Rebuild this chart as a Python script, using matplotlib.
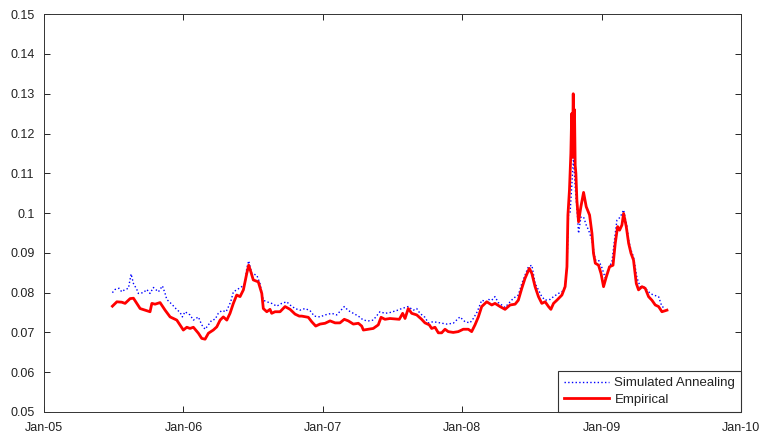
import datetime as dt
import matplotlib
matplotlib.use("Agg")
import matplotlib.pyplot as plt
import matplotlib.dates as mdates

# decimal-year positions and values
emp_t = [2005.490, 2005.522, 2005.557, 2005.581, 2005.617, 2005.641, 2005.665, 2005.689,
         2005.725, 2005.760, 2005.773, 2005.796, 2005.832, 2005.868, 2005.904, 2005.952,
         2005.999, 2006.024, 2006.047, 2006.071, 2006.107, 2006.131, 2006.155, 2006.179,
         2006.214, 2006.239, 2006.263, 2006.286, 2006.311, 2006.334, 2006.358, 2006.382,
         2006.406, 2006.430, 2006.454, 2006.468, 2006.483, 2006.501, 2006.537, 2006.562,
         2006.573, 2006.598, 2006.621, 2006.633, 2006.657, 2006.693, 2006.729, 2006.765,
         2006.801, 2006.831, 2006.849, 2006.896, 2006.920, 2006.949, 2006.980, 2007.016,
         2007.052, 2007.088, 2007.123, 2007.154, 2007.183, 2007.219, 2007.255, 2007.279,
         2007.291, 2007.326, 2007.362, 2007.398, 2007.418, 2007.446, 2007.482, 2007.518,
         2007.549, 2007.573, 2007.590, 2007.613, 2007.638, 2007.674, 2007.709, 2007.733,
         2007.764, 2007.781, 2007.805, 2007.829, 2007.853, 2007.877, 2007.900, 2007.936,
         2007.972, 2008.008, 2008.044, 2008.068, 2008.092, 2008.116, 2008.140, 2008.164,
         2008.176, 2008.212, 2008.235, 2008.271, 2008.307, 2008.343, 2008.379, 2008.402,
         2008.427, 2008.450, 2008.481, 2008.499, 2008.522, 2008.546, 2008.570, 2008.594,
         2008.618, 2008.635, 2008.654, 2008.678, 2008.714, 2008.737, 2008.750, 2008.757,
         2008.768, 2008.778, 2008.784, 2008.789, 2008.795, 2008.800, 2008.804, 2008.809,
         2008.814, 2008.821, 2008.833, 2008.850, 2008.869, 2008.888, 2008.912, 2008.929,
         2008.940, 2008.953, 2008.976, 2008.994, 2009.012, 2009.032, 2009.055, 2009.080,
         2009.096, 2009.113, 2009.127, 2009.144, 2009.156, 2009.175, 2009.192, 2009.209,
         2009.227, 2009.247, 2009.263, 2009.288, 2009.311, 2009.335, 2009.359, 2009.383,
         2009.407, 2009.431, 2009.467]
emp_v = [0.0766, 0.0777, 0.0776, 0.0773, 0.0785, 0.0786, 0.0773, 0.0760,
         0.0756, 0.0752, 0.0773, 0.0771, 0.0775, 0.0756, 0.0739, 0.0731,
         0.0706, 0.0713, 0.0710, 0.0713, 0.0698, 0.0685, 0.0683, 0.0698,
         0.0706, 0.0714, 0.0731, 0.0739, 0.0731, 0.0748, 0.0773, 0.0794,
         0.0790, 0.0807, 0.0848, 0.0869, 0.0853, 0.0832, 0.0827, 0.0798,
         0.0760, 0.0752, 0.0758, 0.0748, 0.0752, 0.0752, 0.0765, 0.0758,
         0.0746, 0.0741, 0.0741, 0.0738, 0.0727, 0.0716, 0.0721, 0.0723,
         0.0729, 0.0724, 0.0724, 0.0733, 0.0729, 0.0721, 0.0723, 0.0716,
         0.0706, 0.0708, 0.0710, 0.0719, 0.0738, 0.0733, 0.0735, 0.0734,
         0.0733, 0.0748, 0.0735, 0.0760, 0.0748, 0.0744, 0.0733, 0.0724,
         0.0719, 0.0710, 0.0713, 0.0699, 0.0699, 0.0708, 0.0702, 0.0700,
         0.0702, 0.0708, 0.0708, 0.0702, 0.0719, 0.0739, 0.0765, 0.0773,
         0.0777, 0.0769, 0.0773, 0.0765, 0.0758, 0.0769, 0.0771, 0.0781,
         0.0811, 0.0836, 0.0861, 0.0848, 0.0815, 0.0790, 0.0773, 0.0777,
         0.0765, 0.0758, 0.0773, 0.0781, 0.0794, 0.0815, 0.0865, 0.0995,
         0.1058, 0.1150, 0.1250, 0.1140, 0.1300, 0.1180, 0.1260, 0.1120,
         0.1100, 0.1033, 0.0978, 0.1016, 0.1052, 0.1016, 0.0995, 0.0949,
         0.0899, 0.0874, 0.0869, 0.0848, 0.0815, 0.0840, 0.0865, 0.0869,
         0.0924, 0.0966, 0.0957, 0.0970, 0.0999, 0.0966, 0.0924, 0.0899,
         0.0882, 0.0823, 0.0807, 0.0815, 0.0811, 0.0790, 0.0781, 0.0769,
         0.0765, 0.0752, 0.0756]

sa_t = [2005.490, 2005.509, 2005.538, 2005.557, 2005.576, 2005.605, 2005.624, 2005.641,
        2005.665, 2005.676, 2005.712, 2005.737, 2005.760, 2005.784, 2005.820, 2005.849,
        2005.868, 2005.880, 2005.916, 2005.945, 2005.976, 2005.992, 2006.011, 2006.047,
        2006.071, 2006.107, 2006.131, 2006.155, 2006.179, 2006.203, 2006.227, 2006.250,
        2006.275, 2006.306, 2006.339, 2006.358, 2006.382, 2006.418, 2006.442, 2006.454,
        2006.468, 2006.490, 2006.526, 2006.549, 2006.573, 2006.598, 2006.633, 2006.669,
        2006.705, 2006.741, 2006.765, 2006.801, 2006.836, 2006.872, 2006.908, 2006.939,
        2006.980, 2007.016, 2007.064, 2007.100, 2007.154, 2007.183, 2007.219, 2007.255,
        2007.291, 2007.326, 2007.362, 2007.410, 2007.446, 2007.482, 2007.530, 2007.566,
        2007.613, 2007.649, 2007.674, 2007.697, 2007.733, 2007.757, 2007.793, 2007.841,
        2007.889, 2007.936, 2007.984, 2008.020, 2008.056, 2008.080, 2008.108, 2008.140,
        2008.176, 2008.187, 2008.212, 2008.235, 2008.259, 2008.307, 2008.367, 2008.402,
        2008.427, 2008.450, 2008.474, 2008.499, 2008.522, 2008.546, 2008.570, 2008.594,
        2008.630, 2008.654, 2008.689, 2008.714, 2008.737, 2008.750, 2008.761, 2008.773,
        2008.797, 2008.809, 2008.826, 2008.833, 2008.850, 2008.869, 2008.888, 2008.905,
        2008.929, 2008.953, 2008.976, 2009.001, 2009.024, 2009.048, 2009.072, 2009.096,
        2009.108, 2009.132, 2009.156, 2009.180, 2009.192, 2009.209, 2009.227, 2009.252,
        2009.275, 2009.299, 2009.323, 2009.347, 2009.371, 2009.407, 2009.431, 2009.455]
sa_v = [0.0800, 0.0808, 0.0811, 0.0802, 0.0807, 0.0811, 0.0847, 0.0823,
        0.0808, 0.0798, 0.0800, 0.0808, 0.0798, 0.0813, 0.0802, 0.0817,
        0.0798, 0.0783, 0.0771, 0.0760, 0.0750, 0.0739, 0.0752, 0.0744,
        0.0731, 0.0739, 0.0719, 0.0708, 0.0719, 0.0731, 0.0733, 0.0748,
        0.0755, 0.0752, 0.0777, 0.0802, 0.0807, 0.0815, 0.0823, 0.0861,
        0.0880, 0.0848, 0.0844, 0.0823, 0.0781, 0.0777, 0.0773, 0.0766,
        0.0773, 0.0777, 0.0769, 0.0760, 0.0756, 0.0760, 0.0755, 0.0741,
        0.0739, 0.0744, 0.0748, 0.0744, 0.0765, 0.0755, 0.0748, 0.0741,
        0.0731, 0.0729, 0.0731, 0.0752, 0.0748, 0.0750, 0.0755, 0.0760,
        0.0765, 0.0756, 0.0760, 0.0748, 0.0738, 0.0724, 0.0727, 0.0724,
        0.0721, 0.0723, 0.0739, 0.0727, 0.0724, 0.0735, 0.0752, 0.0781,
        0.0777, 0.0783, 0.0781, 0.0790, 0.0775, 0.0763, 0.0786, 0.0794,
        0.0823, 0.0844, 0.0865, 0.0869, 0.0823, 0.0807, 0.0790, 0.0781,
        0.0783, 0.0790, 0.0798, 0.0802, 0.0815, 0.0865, 0.0995, 0.1003,
        0.1140, 0.1066, 0.0990, 0.0949, 0.0990, 0.0990, 0.0970, 0.0957,
        0.0932, 0.0882, 0.0882, 0.0862, 0.0837, 0.0862, 0.0877, 0.0949,
        0.0982, 0.0990, 0.1008, 0.0966, 0.0932, 0.0907, 0.0890, 0.0837,
        0.0815, 0.0815, 0.0807, 0.0798, 0.0794, 0.0790, 0.0765, 0.0761]


def to_dates(years):
    out = []
    for y in years:
        start = dt.datetime(int(y), 1, 1)
        length = dt.datetime(int(y) + 1, 1, 1) - start
        out.append(start + (y - int(y)) * length)
    return out


plt.rcParams['font.family'] = ['Liberation Sans', 'DejaVu Sans']
plt.rcParams['font.size'] = 9

fig = plt.figure(figsize=(7.61, 4.43), dpi=100)
ax = fig.add_axes([0.058, 0.070, 0.916, 0.898])

ax.plot(to_dates(sa_t), sa_v, color='blue', linestyle=':', linewidth=1.0,
        label='Simulated Annealing')
ax.plot(to_dates(emp_t), emp_v, color='red', linestyle='-', linewidth=2.0,
        label='Empirical')

ax.set_xlim(dt.datetime(2005, 1, 1), dt.datetime(2010, 1, 1))
ax.set_ylim(0.05, 0.15)
ax.set_yticks([0.05 + 0.01 * i for i in range(11)])
ax.set_yticklabels(['0.05', '0.06', '0.07', '0.08', '0.09', '0.1',
                    '0.11', '0.12', '0.13', '0.14', '0.15'])
ax.xaxis.set_major_locator(mdates.YearLocator())
ax.xaxis.set_major_formatter(mdates.DateFormatter('%b-%y'))
ax.tick_params(direction='in', top=True, right=True, length=4, width=0.6,
               labelsize=9, labelcolor='#222222', pad=7)
for s in ax.spines.values():
    s.set_linewidth(0.7)
    s.set_color('#333333')

leg = ax.legend(loc='lower right', fancybox=False, framealpha=1,
                edgecolor='#333333', borderaxespad=0, handlelength=3.4,
                fontsize=9.5, borderpad=0.45, labelspacing=0.35, handletextpad=0.4)
leg.get_frame().set_linewidth(0.8)
for t in leg.get_texts():
    t.set_color('#222222')

fig.savefig('out.png', dpi=100)
